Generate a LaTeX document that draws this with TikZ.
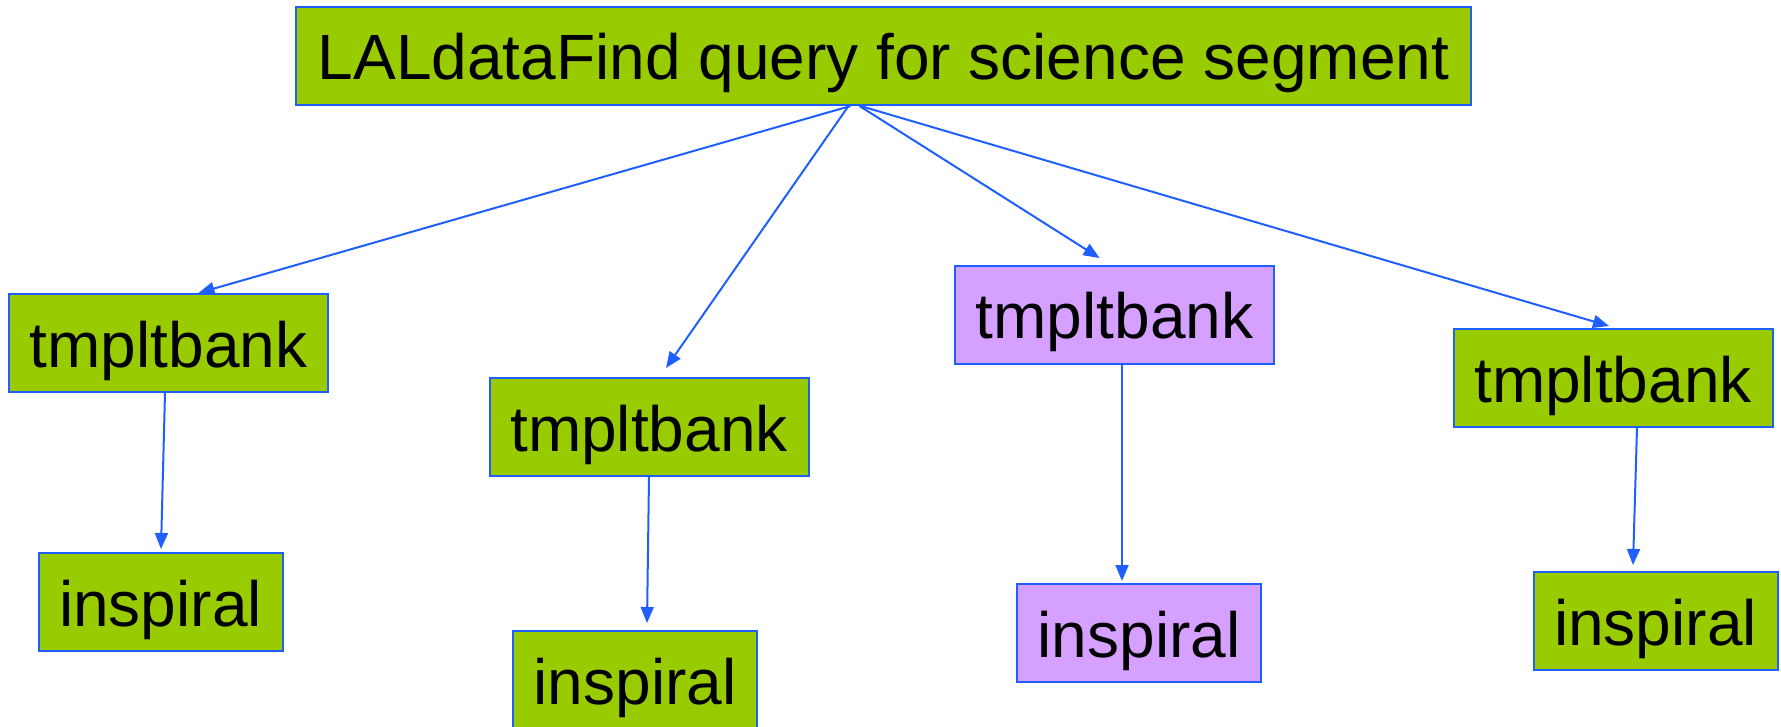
\documentclass[tikz,border=0pt]{standalone}
\usepackage{fontspec}
\setmainfont{Liberation Sans}
\usetikzlibrary{arrows.meta}
\definecolor{boxgreen}{HTML}{99CC00}
\definecolor{boxpurple}{HTML}{D5A0FF}
\definecolor{edgeblue}{HTML}{1F5FFF}
\tikzset{
  jobbox/.style={draw=edgeblue, line width=2pt, fill=boxgreen, inner sep=0pt,
    minimum height=98pt, text height=60pt, text depth=12pt,
    font=\fontsize{64}{76}\selectfont, text=black},
  tbox/.style={jobbox, minimum width=319pt},
  ibox/.style={jobbox, minimum width=244pt},
  purplebox/.style={fill=boxpurple},
  link/.style={draw=edgeblue, line width=2pt, -{Triangle[length=16pt,width=13pt]}}
}
\begin{document}
\begin{tikzpicture}[x=1pt,y=-1pt]
\useasboundingbox (0,0) rectangle (1781,727);
\node[jobbox, minimum width=1175pt] (top) at (883.5,56) {LALdataFind query for science segment};
\node[tbox] (t1) at (168.5,343) {tmpltbank};
\node[ibox] (i1) at (160.5,602) {inspiral};
\node[tbox] (t2) at (649,427) {tmpltbank};
\node[ibox] (i2) at (635,680) {inspiral};
\node[tbox, purplebox] (t3) at (1114.5,315) {tmpltbank};
\node[ibox, purplebox] (i3) at (1139,633) {inspiral};
\node[tbox] (t4) at (1613,378) {tmpltbank};
\node[ibox] (i4) at (1655.5,621) {inspiral};
\draw[link] ([xshift=-33pt]top.south) -- ([xshift=30pt]t1.north);
\draw[link] ([xshift=-35pt]top.south) -- ([xshift=17pt,yshift=9pt]t2.north);
\draw[link] ([xshift=-24pt]top.south) -- ([xshift=-15pt,yshift=7pt]t3.north);
\draw[link] ([xshift=-23pt]top.south) -- ([xshift=-4pt,yshift=2pt]t4.north);
\draw[link] ([xshift=-3.5pt]t1.south) -- ([xshift=0.5pt,yshift=3pt]i1.north);
\draw[link] ([xshift=0pt]t2.south) -- ([xshift=12pt,yshift=7pt]i2.north);
\draw[link] ([xshift=7.5pt]t3.south) -- ([xshift=-17pt,yshift=2pt]i3.north);
\draw[link] ([xshift=24pt]t4.south) -- ([xshift=-22.5pt,yshift=6pt]i4.north);
\end{tikzpicture}
\end{document}
